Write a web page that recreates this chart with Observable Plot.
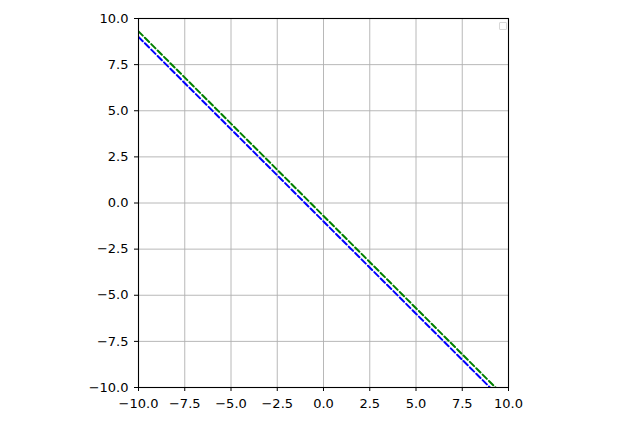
<!DOCTYPE html>
<html><head><meta charset="utf-8">
<script src="https://cdn.jsdelivr.net/npm/d3@7"></script>
<script src="https://cdn.jsdelivr.net/npm/@observablehq/plot@0.6"></script>
<style>
body{margin:0;background:#fff;}
#wrap{position:relative;width:625px;height:422px;}
#legend{position:absolute;left:499px;top:22px;width:6px;height:6px;border:1px solid #d8d8d8;border-radius:1px;background:#fff;}
</style>
</head><body>
<div id="wrap"><div id="chart"></div><div id="legend"></div></div>
<script>
const xs = [-10, 10];
const greenY = [9.3, -10.7];
const blueY = [9.0, -11.0];
const ticks = [-10, -7.5, -5, -2.5, 0, 2.5, 5, 7.5, 10];

const rows = [];
xs.forEach((x, i) => { rows.push({series: "green", x, y: greenY[i]}); });
xs.forEach((x, i) => { rows.push({series: "blue", x, y: blueY[i]}); });

const fmt = d => d.toFixed(1).replace("-", "\u2212");

const chart = Plot.plot({
  width: 625, height: 422,
  marginLeft: 138, marginRight: 117, marginTop: 18, marginBottom: 35,
  style: {fontFamily: "DejaVu Sans", fontSize: "13px", color: "#000", background: "#fff"},
  x: {domain: [-10, 10], ticks: ticks, tickFormat: fmt, label: null, tickSize: 4},
  y: {domain: [-10, 10], ticks: ticks, tickFormat: fmt, label: null, tickSize: 4},
  marks: [
    Plot.gridX(ticks, {stroke: "#b0b0b0", strokeOpacity: 1, strokeWidth: 0.9}),
    Plot.gridY(ticks, {stroke: "#b0b0b0", strokeOpacity: 1, strokeWidth: 0.9}),
    Plot.line(rows.filter(d => d.series === "blue"), {x: "x", y: "y", stroke: "#0000ff", strokeWidth: 2, strokeDasharray: "6,3", clip: true}),
    Plot.line(rows.filter(d => d.series === "green"), {x: "x", y: "y", stroke: "#008000", strokeWidth: 2, strokeDasharray: "6,3", clip: true}),
    Plot.axisX({ticks: ticks, tickFormat: fmt, tickSize: 4, tickPadding: 7, label: null}),
    Plot.axisY({ticks: ticks, tickFormat: fmt, tickSize: 4, tickPadding: 6, label: null}),
    Plot.frame({stroke: "#000", strokeWidth: 1.1})
  ]
});
document.getElementById("chart").appendChild(chart);
</script>
</body></html>
